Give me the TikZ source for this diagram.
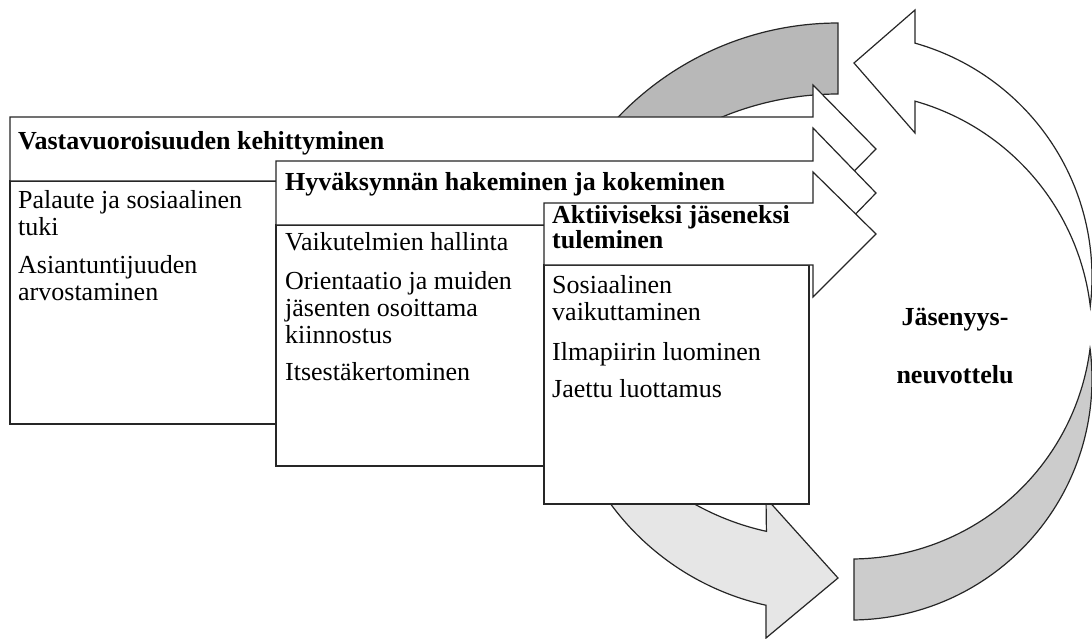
\documentclass[tikz,border=0pt]{standalone}
\usepackage{fontspec}
\setmainfont{Liberation Serif}
\definecolor{bandtop}{HTML}{B8B8B8}
\definecolor{bandright}{HTML}{CCCCCC}
\definecolor{bandlow}{HTML}{E6E6E6}
\begin{document}
\begin{tikzpicture}[x=1pt,y=-1pt,
  edge/.style={draw=black!85, line width=1.2pt, line join=miter},
  panel/.style={edge, fill=white},
  % multi-line nodes are placed by the baseline of their last line
  txt/.style={anchor=base west, inner sep=0pt, align=left, font=\fontsize{26}{27}\selectfont},
  ttl/.style={anchor=base west, inner sep=0pt, align=left, font=\fontsize{26}{27}\selectfont\bfseries},
  cyc/.style={anchor=base, inner sep=0pt, font=\fontsize{26}{27}\selectfont\bfseries},
]
\useasboundingbox (0,0) rectangle (1092,639);
\clip (0,0) rectangle (1092,639);

% --- cycle of curved arrows behind the panels ---
% upper-left band, ending flat at the top
\filldraw[edge, fill=bandtop]
  plot[domain=173.3:270, samples=80] ({838+304*cos(\x)},{327+304*sin(\x)})
  -- plot[domain=270:186.7, samples=80] ({838+304*cos(\x)},{398+304*sin(\x)})
  -- cycle;
% lower arrow pointing right
\filldraw[edge, fill=bandlow]
  plot[domain=188.1:102.5, samples=80] ({823+263.5*cos(\x)},{348+263.5*sin(\x)})
  -- (766,638) -- (838,578) -- (766,498)
  -- plot[domain=102.4:171.9, samples=80] ({823+263.5*cos(\x)},{274+263.5*sin(\x)})
  -- cycle;
% right band, flat end at the bottom
\filldraw[edge, fill=bandright]
  plot[domain=7.27:89.3, samples=80] ({851+241*cos(\x)},{318+241*sin(\x)})
  -- plot[domain=89.3:-7.27, samples=80] ({851+241*cos(\x)},{379+241*sin(\x)})
  -- cycle;
% white arrow pointing left at the top
\filldraw[edge, fill=white]
  plot[domain=6.85:-74.25, samples=80] ({849+243*cos(\x)},{277+243*sin(\x)})
  -- (915,10) -- (854,63) -- (915,133)
  -- plot[domain=-74.25:-6.85, samples=80] ({849+243*cos(\x)},{335+243*sin(\x)})
  -- cycle;

% --- panel 1 ---
\draw[panel] (10,181) rectangle (805,424);
\draw[panel] (10,117) -- (813,117) -- (813,85) -- (876,149) -- (813,213) -- (813,181) -- (10,181) -- cycle;
\node[ttl] (t1) at (18,150) {Vastavuoroisuuden kehittyminen};
\node[txt] (p1a) at (18,236) {Palaute ja sosiaalinen\\tuki};
\node[txt] (p1b) at (18,300) {Asiantuntijuuden\\arvostaminen};

% --- panel 2 ---
\draw[panel] (276,225) rectangle (805,466);
\draw[panel] (276,161) -- (813,161) -- (813,128) -- (876,193) -- (813,258) -- (813,225) -- (276,225) -- cycle;
\node[ttl] (t2) at (285,191) {Hyväksynnän hakeminen ja kokeminen};
\node[txt] (p2a) at (285,250) {Vaikutelmien hallinta};
\node[txt] (p2b) at (285,343) {Orientaatio ja muiden\\jäsenten osoittama\\kiinnostus};
\node[txt] (p2c) at (285,380) {Itsestäkertominen};

% --- panel 3 ---
\draw[panel] (544,265) rectangle (809,504);
\draw[panel] (544,203) -- (813,203) -- (813,172) -- (876,234) -- (813,297) -- (813,265) -- (544,265) -- cycle;
\node[ttl] (t3) at (552,248) {Aktiiviseksi jäseneksi\\[-2pt]tuleminen};
\node[txt] (p3a) at (552,320) {Sosiaalinen\\vaikuttaminen};
\node[txt] (p3b) at (552,360) {Ilmapiirin luominen};
\node[txt] (p3c) at (552,397) {Jaettu luottamus};

% --- label inside the cycle ---
\node[cyc] (c1) at (955,325) {Jäsenyys-};
\node[cyc] (c2) at (955,383) {neuvottelu};
\end{tikzpicture}
\end{document}
